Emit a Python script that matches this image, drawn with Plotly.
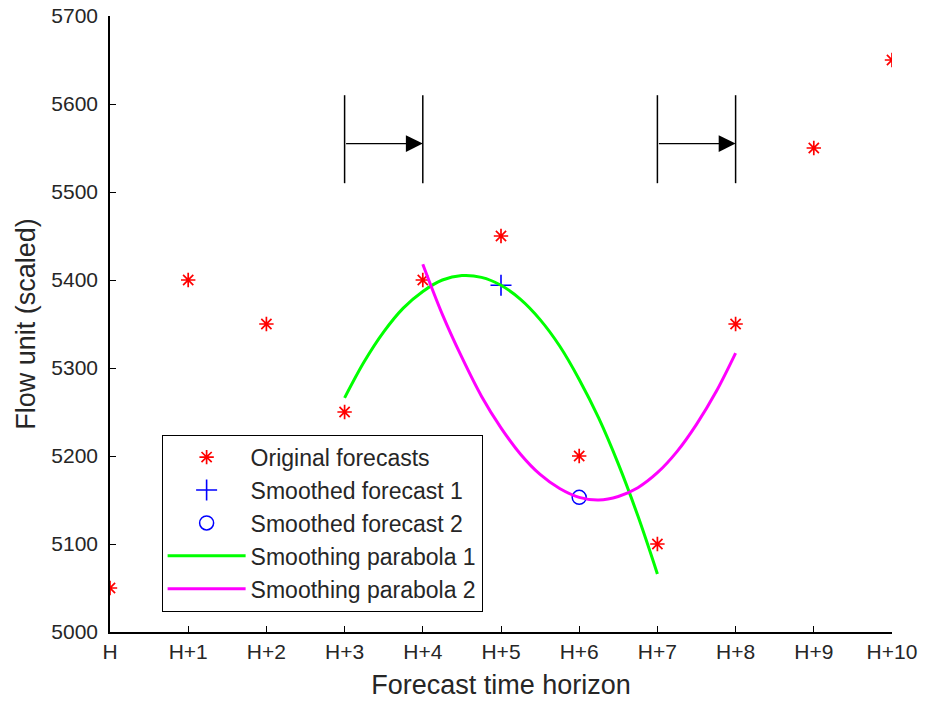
import plotly.graph_objects as go

# ---- data ----
tick_labels = ["H", "H+1", "H+2", "H+3", "H+4", "H+5", "H+6", "H+7", "H+8", "H+9", "H+10"]
x_orig = list(range(11))
y_orig = [5050, 5400, 5350, 5250, 5400, 5450, 5200, 5100, 5350, 5550, 5650]

x_s1 = [5]
y_s1 = [5394]
x_s2 = [6]
y_s2 = [5153]

x_p1 = [3, 3.25, 3.5, 3.75, 4, 4.25, 4.5, 4.75, 5, 5.25, 5.5, 5.75, 6, 6.25, 6.5, 6.75, 7]
y_p1 = [5266, 5307, 5341, 5368, 5387, 5400, 5405, 5403, 5394, 5378, 5355, 5325,
        5287, 5243, 5191, 5132, 5066]

x_p2 = [4, 4.25, 4.5, 4.75, 5, 5.25, 5.5, 5.75, 6, 6.25, 6.5, 6.75, 7, 7.25, 7.5, 7.75, 8]
y_p2 = [5418, 5361, 5312, 5268, 5232, 5202, 5179, 5163, 5153, 5150, 5154, 5164,
        5181, 5205, 5236, 5273, 5317]

arrow_x_start = [3, 7]
arrow_x_end = [4, 8]
arrow_y = 5555
bar_y_low = 5510
bar_y_high = 5610

FONT = "Liberation Sans, Arial, sans-serif"
TXT = "#262626"

fig = go.Figure()
fig.add_trace(go.Scatter(x=x_orig, y=y_orig, mode="markers", name="Original forecasts",
                         marker=dict(symbol="asterisk-open", size=12, color="#ff0000",
                                     line=dict(width=1.7, color="#ff0000"))))
fig.add_trace(go.Scatter(x=x_s1, y=y_s1, mode="markers", name="Smoothed forecast 1",
                         marker=dict(symbol="cross-thin-open", size=15, color="#0000ff",
                                     line=dict(width=1.6, color="#0000ff"))))
fig.add_trace(go.Scatter(x=x_s2, y=y_s2, mode="markers", name="Smoothed forecast 2",
                         marker=dict(symbol="circle-open", size=14, color="#0000ff",
                                     line=dict(width=1.5, color="#0000ff"))))
fig.add_trace(go.Scatter(x=x_p1, y=y_p1, mode="lines", name="Smoothing parabola 1",
                         line=dict(color="#00ff00", width=3, shape="spline")))
fig.add_trace(go.Scatter(x=x_p2, y=y_p2, mode="lines", name="Smoothing parabola 2",
                         line=dict(color="#ff00ff", width=3, shape="spline")))

for xs, xe in zip(arrow_x_start, arrow_x_end):
    for xv in (xs, xe):
        fig.add_shape(type="line", x0=xv, x1=xv, y0=bar_y_low, y1=bar_y_high,
                      xref="x", yref="y", line=dict(color="black", width=1.5))
    fig.add_annotation(x=xe, y=arrow_y, ax=xs, ay=arrow_y, xref="x", yref="y",
                       axref="x", ayref="y", text="", showarrow=True,
                       arrowhead=2, arrowsize=2.6, arrowwidth=1.3, arrowcolor="black")

fig.update_layout(
    width=925, height=702,
    margin=dict(l=110, r=33, t=16, b=70, autoexpand=False),
    paper_bgcolor="white", plot_bgcolor="white",
    font=dict(family=FONT, size=22, color=TXT),
    showlegend=True,
    legend=dict(x=0.066, y=0.033, xanchor="left", yanchor="bottom",
                bordercolor="black", borderwidth=1, bgcolor="white",
                font=dict(family=FONT, size=23, color=TXT),
                itemwidth=78, tracegroupgap=0),
    xaxis=dict(range=[0, 10], tickmode="array", tickvals=x_orig, ticktext=tick_labels,
               ticks="inside", ticklen=6, tickcolor="black", showline=True,
               linecolor="black", linewidth=1.5, showgrid=False, zeroline=False,
               automargin=False,
               title=dict(text="Forecast time horizon", font=dict(size=27), standoff=13),
               tickfont=dict(size=21)),
    yaxis=dict(range=[5000, 5700], tickmode="linear", tick0=5000, dtick=100,
               ticks="inside", ticklen=6, tickcolor="black", showline=True,
               linecolor="black", linewidth=1.5, showgrid=False, zeroline=False,
               automargin=False,
               title=dict(text="Flow unit (scaled)", font=dict(size=27), standoff=8),
               tickfont=dict(size=21), ticklabelstandoff=6),
)

fig.write_html("out.html")
